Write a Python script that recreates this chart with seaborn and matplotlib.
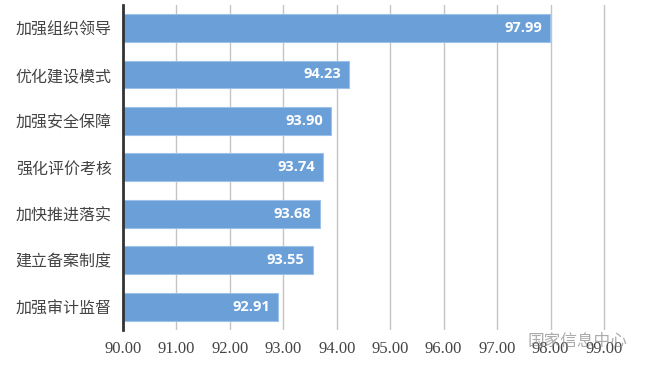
import matplotlib
matplotlib.use("Agg")
import matplotlib.pyplot as plt
import seaborn as sns
import pandas as pd

categories = ["加强组织领导", "优化建设模式", "加强安全保障", "强化评价考核", "加快推进落实", "建立备案制度", "加强审计监督"]
values = [97.99, 94.23, 93.90, 93.74, 93.68, 93.55, 92.91]
xticks = [90, 91, 92, 93, 94, 95, 96, 97, 98, 99]

sns.set_theme(style="white")
plt.rcParams['font.family'] = ['Noto Sans CJK SC', 'DejaVu Sans']

df = pd.DataFrame({"cat": categories, "val": values})
fig = plt.figure(figsize=(6.47, 3.74), dpi=100)
ax = fig.add_axes([0.190, 0.1176, 0.7460, 0.8697])

sns.barplot(data=df, x="val", y="cat", ax=ax, color="#6a9fd8", saturation=1,
            width=0.6, edgecolor="#9cc2ea", linewidth=0.8, zorder=3)
ax.set_xlim(90, 99.03)
ax.set_xticks(xticks)
ax.set_xticklabels([f"{t:.2f}" for t in xticks], family="Liberation Serif", fontsize=12, color="#444444")
ax.tick_params(axis="x", length=0, pad=8)
ax.tick_params(axis="y", length=0, pad=8, labelsize=11.5, labelcolor="#444444")
ax.set_xlabel("")
ax.set_ylabel("")
ax.xaxis.grid(True, color="#c4c4c4", linewidth=1.0, zorder=0)
ax.set_axisbelow(True)
for s in ["top", "right", "bottom"]:
    ax.spines[s].set_visible(False)
ax.spines["left"].set_color("#333333")
ax.spines["left"].set_linewidth(2)
ax.spines["left"].set_zorder(5)

for i, v in enumerate(values):
    ax.text(v - 0.15, i, f"{v:.2f}", ha="right", va="center", color="white",
            fontsize=10.5, fontweight="bold", family=["Open Sans", "DejaVu Sans"], zorder=4)

fig.text(0.892, 0.088, "国家信息中心", ha="center", va="center", fontsize=12,
         color="#888888", alpha=0.7)

fig.savefig("out.png", dpi=100)
